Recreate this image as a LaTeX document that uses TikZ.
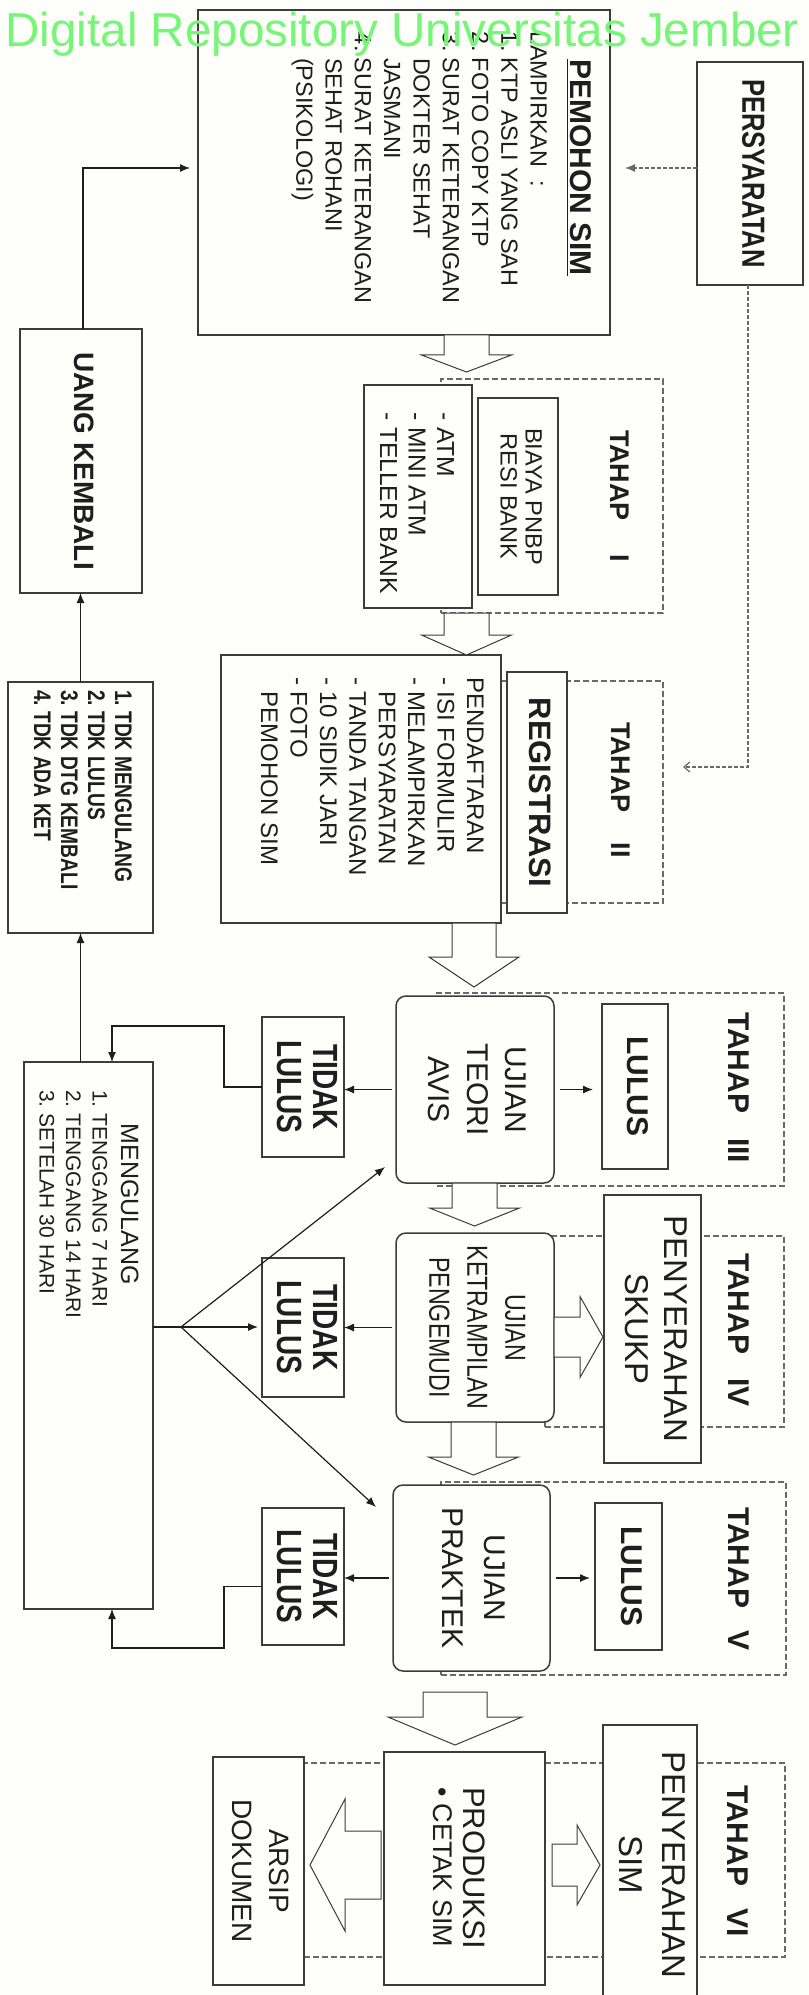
\documentclass[tikz,border=0pt]{standalone}
\usepackage{fontspec}
\setmainfont{Liberation Sans}
\newfontfamily\narrowsf[FakeStretch=0.8]{Liberation Sans}
\usepackage{graphicx}
\usetikzlibrary{arrows.meta,calc}
\frenchspacing

\definecolor{paper}{RGB}{254,254,250}
\definecolor{ink}{RGB}{30,30,30}
\definecolor{edgegray}{RGB}{60,60,60}
\definecolor{dashgray}{RGB}{105,105,105}
\definecolor{wmgreen}{RGB}{118,246,118}

% box from (x1,y1) to (x2,y2), in pixel units, y pointing down
\newcommand\pxbox[7][]{\node[#1, minimum width={(#5-#3)*0.5pt}, minimum height={(#6-#4)*0.5pt}] (#2) at ({(#3+#5)/2},{(#4+#6)/2}) {#7};}
% text turned to read downwards
\newcommand\vt[2]{\rotatebox{-90}{#1\begin{tabular}{@{}c@{}}#2\end{tabular}}}
\newcommand\fs[2]{\fontsize{#1}{#2}\selectfont}
% hollow block arrows: centre, start, neck, tip, shaft half width, head half width
\newcommand\blockdown[6]{\draw[blockarrow] ({#1-#5},#2) -- ({#1-#5},#3) -- ({#1-#6},#3) -- (#1,#4) -- ({#1+#6},#3) -- ({#1+#5},#3) -- ({#1+#5},#2) -- cycle;}
\newcommand\blockside[6]{\draw[blockarrow] (#2,{#1-#5}) -- (#3,{#1-#5}) -- (#3,{#1-#6}) -- (#4,#1) -- (#3,{#1+#6}) -- (#3,{#1+#5}) -- (#2,{#1+#5}) -- cycle;}

\begin{document}
\begin{tikzpicture}[x=0.5pt, y=-0.5pt,
  box/.style={draw=edgegray, line width=0.75pt, fill=paper, inner sep=0pt, outer sep=0pt, text=ink},
  rbox/.style={box, rounded corners=5pt},
  tahapbox/.style={draw=dashgray, line width=0.55pt, dash pattern=on 3pt off 1.5pt, inner sep=0pt, outer sep=0pt},
  vtext/.style={rotate=-90, inner sep=0pt, outer sep=0pt, text=ink},
  link/.style={draw=ink, line width=0.6pt},
  arr/.style={link, -{Latex[length=5pt,width=4pt]}},
  dotarr/.style={draw=dashgray, line width=0.6pt, dash pattern=on 2pt off 1pt},
  blockarrow/.style={draw=edgegray, line width=0.5pt, fill=paper, line join=miter},
  tahap/.style={vtext, anchor=base west, font=\bfseries}]

\fill[paper] (0,0) rectangle (808,1995);
\useasboundingbox (0,0) rectangle (808,1995);

% stage frames
\pxbox[tahapbox]{t1}{441}{379}{663}{613}{}
\pxbox[tahapbox]{t2}{500}{681}{663}{903}{}
\pxbox[tahapbox]{t3}{437}{993}{784}{1186}{}
\pxbox[tahapbox]{t4}{545}{1236}{784}{1427}{}
\pxbox[tahapbox]{t5}{441}{1482}{786}{1675}{}
\pxbox[tahapbox]{t6}{304}{1763}{785}{1957}{}

% boxes
\pxbox[box]{pem}{198}{10}{610}{335}{}
\pxbox[box]{syarat}{697}{62}{803}{285}{\vt{\narrowsf\fs{16}{19}\bfseries}{PERSYARATAN}}
\pxbox[box]{uang}{20}{329}{142}{593}{\vt{\fs{14}{17}\bfseries}{UANG KEMBALI}}
\pxbox[box]{tdk}{8}{682}{153}{933}{}
\pxbox[box]{ulang}{24}{1062}{153}{1609}{}
\pxbox[box]{bayar}{364}{385}{472}{608}{}
\pxbox[box]{biaya}{478}{398}{558}{595}{\vt{\fs{11.8}{12.5}}{BIAYA PNBP\\RESI BANK}}
\pxbox[box]{reg}{221}{655}{501}{923}{}
\pxbox[box]{regis}{507}{672}{567}{913}{\vt{\fs{15.5}{18}\bfseries}{REGISTRASI}}
\pxbox[rbox]{teori}{396}{996}{554}{1183}{\vt{\fs{15}{19.25}}{UJIAN\\TEORI\\AVIS}}
\pxbox[box]{lulus3}{602}{1004}{668}{1169}{\vt{\fs{15}{18}\bfseries}{LULUS}}
\pxbox[box]{tidak3}{262}{1017}{344}{1157}{\vt{\narrowsf\fs{17.5}{18}\bfseries}{TIDAK\\LULUS}}
\pxbox[rbox]{trampil}{396}{1233}{554}{1422}{\vt{\narrowsf\fs{14.5}{19}}{UJIAN\\KETRAMPILAN\\PENGEMUDI}}
\pxbox[box]{skukp}{604}{1195}{701}{1463}{\vt{\fs{16.5}{19.5}}{PENYERAHAN\\SKUKP}}
\pxbox[box]{tidak4}{262}{1258}{344}{1397}{\vt{\narrowsf\fs{17.5}{18}\bfseries}{TIDAK\\LULUS}}
\pxbox[rbox]{praktek}{393}{1485}{550}{1671}{\vt{\fs{15}{21}}{UJIAN\\PRAKTEK}}
\pxbox[box]{lulus5}{595}{1503}{662}{1650}{\vt{\fs{15}{18}\bfseries}{LULUS}}
\pxbox[box]{tidak5}{262}{1508}{344}{1645}{\vt{\narrowsf\fs{17.5}{18}\bfseries}{TIDAK\\LULUS}}
\pxbox[box]{produksi}{384}{1752}{545}{1985}{}
\pxbox[box]{serah}{603}{1725}{697}{2005}{\vt{\fs{16.5}{21.5}}{PENYERAHAN\\SIM}}
\pxbox[box]{arsip}{213}{1757}{304}{1985}{\vt{\fs{14}{18.5}}{ARSIP\\DOKUMEN}}

% texts set from the top of their boxes
\node[vtext, anchor=base west] (pemtxt) at (570,32) {\fs{11.7}{14.65}\begin{tabular}[t]{@{}l@{}}
  \multicolumn{1}{@{}c@{}}{\fs{15}{18}\bfseries\underline{PEMOHON SIM}}\\[5pt]
  LAMPIRKAN\ \ :\\
  1. KTP ASLI YANG SAH\\
  2. FOTO COPY KTP\\
  3. SURAT KETERANGAN\\
  \phantom{3. }DOKTER SEHAT\\
  \phantom{3. }JASMANI\\
  4. SURAT KETERANGAN\\
  \phantom{4. }SEHAT ROHANI\\
  \phantom{4. }(PSIKOLOGI)\end{tabular}};
\node[vtext, anchor=base west] (bayartxt) at (437,412) {\fs{12.3}{14.25}\begin{tabular}[t]{@{}l@{}}
  - ATM\\- MINI ATM\\- TELLER BANK\end{tabular}};
\node[vtext, anchor=base west] (regtxt) at (467,677) {\fs{12}{14.7}\begin{tabular}[t]{@{}l@{}}
  PENDAFTARAN\\- ISI FORMULIR\\- MELAMPIRKAN\\\phantom{- }PERSYARATAN\\- TANDA TANGAN\\
  - 10 SIDIK JARI\\- FOTO\\\phantom{- }PEMOHON SIM\end{tabular}};
\node[vtext, anchor=base west] (tdktxt) at (115,690) {\narrowsf\fs{12}{13.5}\bfseries\begin{tabular}[t]{@{}l@{}}
  1. TDK MENGULANG\\2. TDK LULUS\\3. TDK DTG KEMBALI\\4. TDK ADA KET\end{tabular}};
\node[vtext, anchor=base west] (ulangtxt) at (121,1090) {\fs{10.5}{13.25}\begin{tabular}[t]{@{}l@{}}
  \multicolumn{1}{@{}c@{}}{\fs{12.5}{15}MENGULANG}\\[1pt]
  1. TENGGANG 7 HARI\\2. TENGGANG 14 HARI\\3. SETELAH 30 HARI\end{tabular}};
\node[vtext, anchor=base west] (produksitxt) at (463,1787) {\fs{13.5}{15}\begin{tabular}[t]{@{}l@{}}
  {\fs{15.5}{18}PRODUKSI}\\\textbullet\ CETAK SIM\end{tabular}};

% stage labels
\node[tahap] (lt1) at (610,430) {\fs{13.5}{16}TAHAP\hspace{17pt}I};
\node[tahap] (lt2) at (611,722) {\fs{13.5}{16}TAHAP\hspace{15pt}II};
\node[tahap] (lt3) at (728,1012) {\fs{15}{18}TAHAP\hspace{12.5pt}III};
\node[tahap] (lt4) at (728,1253) {\fs{15}{18}TAHAP\hspace{12pt}IV};
\node[tahap] (lt5) at (728,1507) {\fs{15}{18}TAHAP\hspace{11pt}V};
\node[tahap] (lt6) at (727,1785) {\fs{15}{18}TAHAP\hspace{11pt}VI};

% hollow flow arrows
\blockdown{466.5}{335}{355}{372}{22.5}{45}
\blockdown{466.5}{613}{635}{655}{22.5}{45}
\blockdown{474}{923}{957}{987}{22}{45}
\blockdown{474.5}{1183}{1208}{1226}{22.5}{45}
\blockdown{473.5}{1422}{1457}{1475}{22.5}{45}
\blockdown{455}{1692}{1717}{1745}{32}{67}
\blockside{1337}{554}{580}{603}{20}{40.5}
\blockside{1865}{552}{577}{600}{21}{40}
\blockside{1865}{381}{345}{310}{34}{66}

% connectors
\coordinate (j1) at (83,168);
\coordinate (k2) at (748,767);
\coordinate (l3a) at (224,1026);
\coordinate (l3b) at (112,1026);
\coordinate (l5a) at (224,1648);
\coordinate (l5b) at (112,1648);
\coordinate (fan) at (181,1327);

\draw[arr, shorten >=4pt] (uang.north -| j1) |- (pem.west |- j1);
\draw[dotarr, -{Latex[length=5pt,width=4pt]}, shorten >=7.5pt] (syarat.west |- j1) -- (pem.east |- j1);
\draw[dotarr, -{Straight Barb[length=3pt,width=5pt]}, shorten >=10pt] (syarat.south -| k2) -- (k2) -- (t2.east |- k2);
\draw[arr] (tdk.north) -- (uang.south -| tdk.north);
\draw[arr] (tdk.south |- ulang.north) -- (tdk.south);
\draw[arr] (tidak3.west) -| (l3a) -- (l3b) -- (l3b |- ulang.north);
\draw[arr] ($(tidak5.west)+(0,10)$) -| (l5a) -- (l5b) -- (l5b |- ulang.south);
\draw[link] (ulang.east |- fan) -- (fan);
\draw[arr, shorten >=2pt] (fan) -- (tidak4.west |- fan);
\draw[arr] (fan) -- ($(teori.south west)+(-11,-16)$);
\draw[arr] (fan) -- ($(praktek.north west)+(-17,22)$);
\draw[arr, shorten <=3pt, shorten >=4.5pt] (teori.east) -- (lulus3.west |- teori.east);
\draw[arr, shorten <=2pt] (teori.west) -- (tidak3.east |- teori.west);
\draw[arr, shorten <=2pt] (trampil.west) -- (tidak4.east |- trampil.west);
\draw[arr, shorten <=2pt] (praktek.west) -- (tidak5.east |- praktek.west);
\draw[arr, shorten <=3pt, shorten >=2.5pt] (praktek.east) -- (lulus5.west |- praktek.east);

% repository banner
\node[anchor=base west, inner sep=0pt, text=wmgreen, font={\fs{23.8}{28}}] (banner) at (5,47) {Digital Repository Universitas Jember};
\end{tikzpicture}
\end{document}
